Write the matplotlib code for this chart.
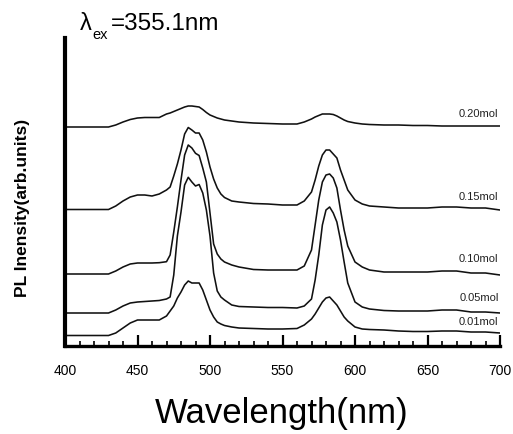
import matplotlib
matplotlib.use("Agg")
import matplotlib.pyplot as plt
from matplotlib.ticker import MultipleLocator

plt.rcParams['font.family'] = ['Liberation Sans', 'DejaVu Sans']

# wavelength (nm)
wavelength = [400, 410, 420, 430, 435, 440, 445, 450, 455, 460, 465,
              470, 472.5, 475, 477.5, 480, 482.5, 485, 487.5, 490, 492.5, 495,
              497.5, 500, 502.5, 505, 507.5, 510, 515, 520, 530, 540, 550, 560,
              565, 570, 572.5, 575, 577.5, 580, 582.5, 585, 587.5, 590, 592.5, 595,
              600, 605, 610, 620, 630, 640, 650, 660, 670, 680, 690, 700]

# PL intensity (arb. units, stacked)
pl_001 = [10.5, 10.5, 10.5, 10.5, 13, 18, 23, 26, 26, 26, 26,
          30, 35, 40, 48, 54, 61, 65, 63, 63, 63, 56,
          46, 36, 29, 24, 22, 20.5, 19, 18, 17.5, 17, 17, 17.5,
          21, 27, 32, 38, 44, 48, 49, 45, 41, 35, 29, 25,
          19, 17, 16.5, 16, 15, 14.5, 14.5, 15, 15, 14, 14, 13]
pl_005 = [33, 33, 33, 33, 36, 40, 43, 44, 44.5, 45, 45.5,
          47, 49, 71, 110, 134, 161, 168.7, 164, 160, 161.5, 153,
          136, 110, 73, 55, 49, 46, 41, 39.5, 39, 38.5, 38.5, 38,
          40, 47, 66, 91, 121, 136, 139, 133, 124, 106, 84, 63,
          44, 39, 37, 35.5, 35, 35, 35, 36, 36, 34, 34, 33]
pl_010 = [72, 72, 72, 72, 75, 79, 82, 83, 83, 83, 83.3,
          84.3, 91, 114, 139, 166, 191, 201, 198, 192.7, 190.5, 178,
          164, 133, 102, 92, 87, 84, 81, 79, 76.5, 76, 76, 76,
          80, 96, 121, 146, 164, 171, 172, 168, 158, 136, 116, 100,
          84, 79, 76, 74, 74, 74, 74, 75, 75, 73, 73, 71]
pl_015 = [136.5, 136.5, 136.5, 136.5, 140, 145, 149, 151, 151, 150, 152,
          156, 159, 170, 182, 196, 212, 218.5, 216, 213, 213, 206,
          194, 179, 167, 158, 152, 148.5, 145, 144, 142.5, 142, 141, 141,
          145, 154, 166, 180, 191, 196, 196, 192, 188, 176, 166, 156,
          146, 142, 140, 139, 138, 138, 138, 139, 139, 138, 138, 136]
pl_020 = [219, 219, 219, 219, 221, 224, 226.5, 228, 228.5, 228.5, 228.5,
          232, 233, 234.5, 236, 237.5, 239, 240, 240, 239.5, 239, 236.5,
          233.5, 231, 229.5, 228, 227, 226, 225, 224, 223, 222.5, 222, 222,
          224, 227, 229, 230.5, 232, 232, 232, 231.5, 230, 228, 226, 224.5,
          223, 222, 221.5, 221, 221, 220.5, 220.5, 220, 220, 220, 220, 220]

series = [pl_001, pl_005, pl_010, pl_015, pl_020]
labels = ['0.01mol', '0.05mol', '0.10mol', '0.15mol', '0.20mol']
label_y = [24, 48, 87, 149, 232]

xticks = [400, 450, 500, 550, 600, 650, 700]

W, H = 513, 434
fig = plt.figure(figsize=(W / 100, H / 100), dpi=100)
ax = fig.add_axes([65 / W, 1 - 346 / H, (500 - 65) / W, (346 - 38) / H])

for s in series:
    ax.plot(wavelength, s, color='#111111', lw=1.15, solid_joinstyle='round')

for lab, yy in zip(labels, label_y):
    ax.text(699, yy, lab, ha='right', va='center', fontsize=8, color='#222222')

ax.set_xlim(400, 700)
ax.set_ylim(0, 308)
ax.spines['top'].set_visible(False)
ax.spines['right'].set_visible(False)
ax.spines['left'].set_linewidth(3)
ax.spines['bottom'].set_linewidth(2.4)
ax.set_yticks([])
ax.set_xticks(xticks)
ax.set_xticklabels([str(t) for t in xticks])
ax.xaxis.set_minor_locator(MultipleLocator(10))
ax.tick_params(axis='x', which='major', direction='in', length=8, width=1.6,
               labelsize=10, pad=13)
ax.tick_params(axis='x', which='minor', direction='in', length=3.5, width=1.2)

# excitation wavelength note
fig.text(80 / W, 1 - 30 / H, 'λ', fontsize=17, ha='left', va='baseline')
fig.text(92 / W, 1 - 39 / H, 'ex', fontsize=10.5, ha='left', va='baseline')
fig.text(111 / W, 1 - 30 / H, '=355.1nm', fontsize=17.5, ha='left', va='baseline')

fig.text(282 / W, 1 - 423 / H, 'Wavelength(nm)', fontsize=25,
         ha='center', va='baseline')
fig.text(23 / W, 1 - 208 / H, 'PL Inensity(arb.units)', fontsize=12.5,
         fontweight='bold', rotation=90, ha='center', va='center')

fig.savefig('out.png', dpi=100)
